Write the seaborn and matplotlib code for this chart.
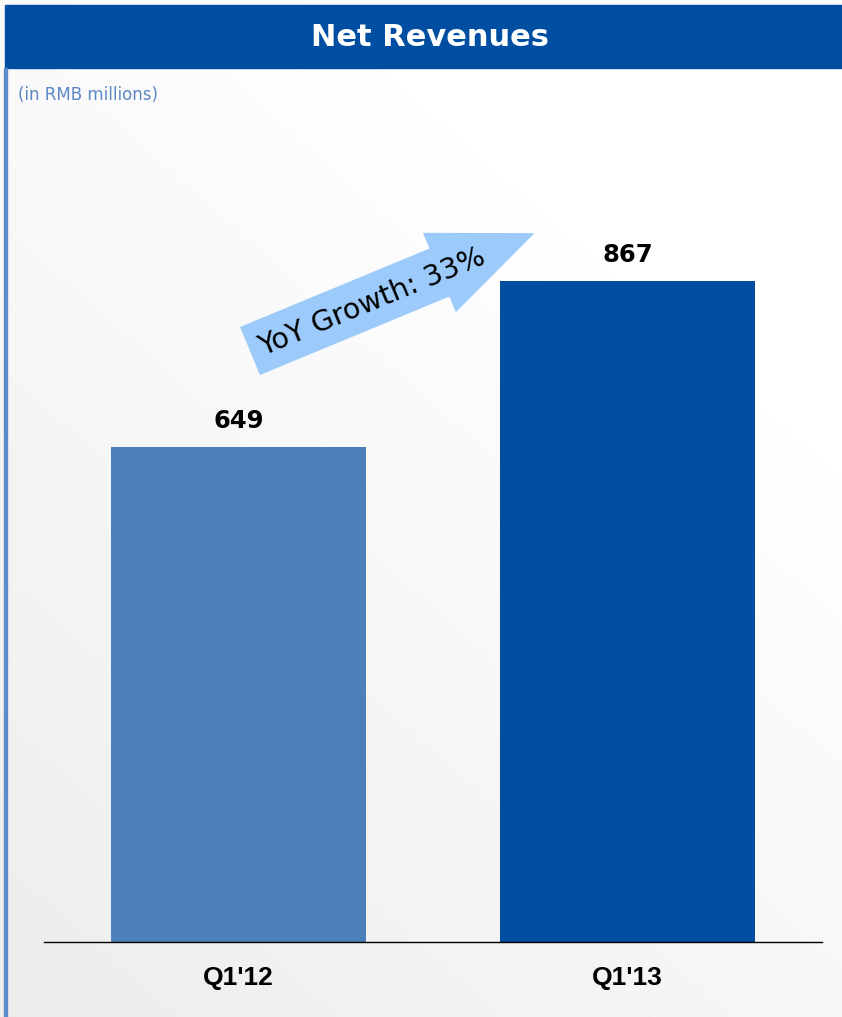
import numpy as np
import pandas as pd
import seaborn as sns
import matplotlib.pyplot as plt
from matplotlib.patches import Rectangle, FancyArrow
from matplotlib.transforms import IdentityTransform

# data
quarters = ["Q1'12", "Q1'13"]
revenues = [649, 867]
bar_colors = ['#4B80BA', '#004EA0']
growth_label = 'YoY Growth: 33%'

df = pd.DataFrame({'quarter': quarters, 'revenue': revenues})

sns.set_style('white')
plt.rcParams['font.family'] = ['DejaVu Sans']

W, H = 842, 1017
fig = plt.figure(figsize=(W / 100, H / 100), dpi=100)

# soft grey-to-white background
bg = fig.add_axes([0, 0, 1, 1])
yy, xx = np.mgrid[0:1:200j, 0:1:200j]
grad = 0.925 + 0.075 * np.clip(0.55 * xx + 0.75 * (1 - yy), 0, 1)
bg.imshow(grad, cmap='gray', vmin=0, vmax=1, aspect='auto', extent=[0, 1, 0, 1])
bg.set_xlim(0, 1)
bg.set_ylim(0, 1)
bg.axis('off')

# title band + left accent line
fig.patches.append(Rectangle((5 / W, (H - 68) / H), 1 - 5 / W, 63 / H,
                             transform=fig.transFigure, color='#004EA2', zorder=1))
fig.patches.append(Rectangle((4 / W, 0), 3 / W, (H - 68) / H,
                             transform=fig.transFigure, color='#5B8BC9', zorder=1))
fig.text(430 / W, 1 - 37 / H, 'Net Revenues', color='white', fontsize=22,
         fontweight='bold', ha='center', va='center')
fig.text(18 / W, 1 - 95 / H, '(in RMB millions)', color='#5B88C4', fontsize=12,
         ha='left', va='center')

# bars
ax = fig.add_axes([44 / W, (H - 942) / H, 778 / W, 822 / H])
ax.patch.set_alpha(0)
sns.barplot(data=df, x='quarter', y='revenue', hue='quarter', palette=bar_colors,
            legend=False, width=0.656, saturation=1, linewidth=0, ax=ax)
ax.set_xlim(-0.5, 1.5)
ax.set_ylim(0, 1078)
for c in ax.containers:
    ax.bar_label(c, fmt='%d', padding=10, fontsize=17.5, fontweight='bold', color='black')
for s in ['top', 'right', 'left']:
    ax.spines[s].set_visible(False)
ax.spines['bottom'].set_color('black')
ax.spines['bottom'].set_linewidth(1)
ax.set_yticks([])
ax.set_xlabel('')
ax.set_ylabel('')
ax.tick_params(axis='x', length=0, pad=17, colors='black')
for lbl in ax.get_xticklabels():
    lbl.set_fontfamily('Liberation Sans')
    lbl.set_fontweight('bold')
    lbl.set_fontsize(19)
    lbl.set_color('black')

# growth arrow (pixel coordinates, origin bottom-left)
ang = np.deg2rad(22.5)
tail = np.array([250, H - 351])
total = 308
arrow = FancyArrow(tail[0], tail[1], total * np.cos(ang), total * np.sin(ang),
                   width=52, head_width=86, head_length=103,
                   length_includes_head=True, color='#9CCBFB', lw=0,
                   transform=IdentityTransform(), zorder=5)
fig.patches.append(arrow)
fig.text(372 / W, 1 - 302 / H, growth_label, fontsize=20.5, rotation=22.5,
         rotation_mode='anchor', ha='center', va='center', color='black', zorder=6)

fig.savefig('out.png', dpi=100)
